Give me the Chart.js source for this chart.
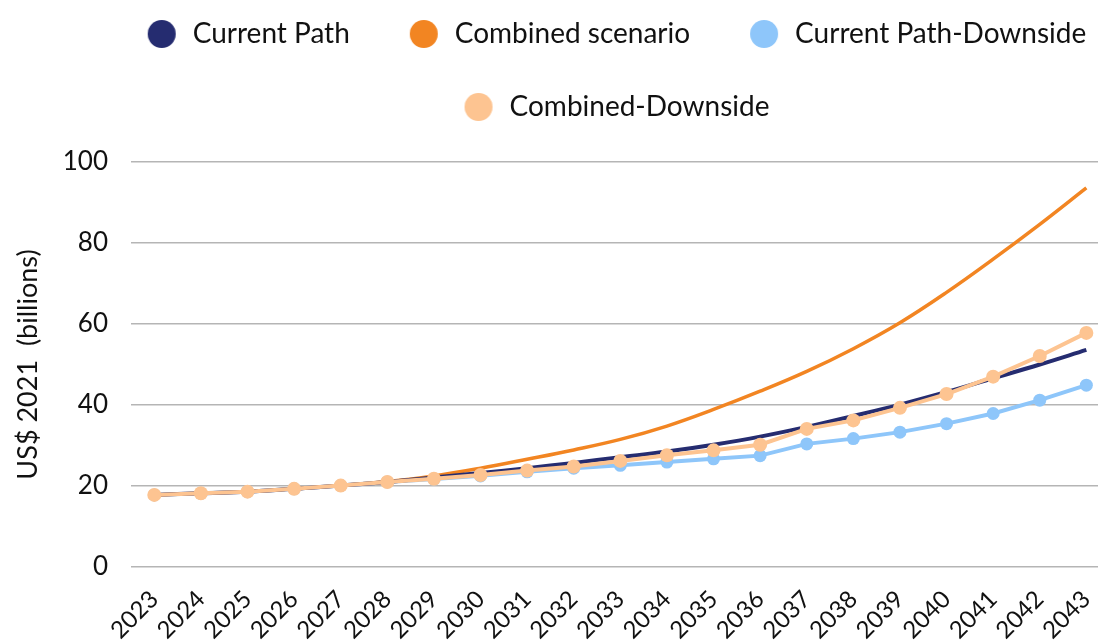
<!DOCTYPE html>
<html>
<head>
<meta charset="utf-8">
<script src="https://cdn.jsdelivr.net/npm/chart.js@4.4.1/dist/chart.umd.min.js"></script>
<style>
    html, body { margin: 0; padding: 0; background: #ffffff; }
    #wrap { width: 1105px; height: 642px; position: relative; }
</style>
</head>
<body>
<div id="wrap"><canvas id="pathChart"></canvas></div>
<script>
// Data
const years = ['2023', '2024', '2025', '2026', '2027', '2028', '2029', '2030', '2031', '2032', '2033',
    '2034', '2035', '2036', '2037', '2038', '2039', '2040', '2041', '2042', '2043'];
const currentPath = [17.8, 18.2, 18.6, 19.3, 20.1, 21.0, 22.1, 23.2, 24.4, 25.7, 27.1,
    28.5, 30.2, 32.2, 34.6, 37.3, 40.1, 43.2, 46.6, 50.0, 53.6];
const combinedScenario = [17.8, 18.2, 18.6, 19.3, 20.1, 21.1, 22.5, 24.4, 26.6, 28.9, 31.5,
    34.8, 38.9, 43.4, 48.3, 53.9, 60.3, 67.8, 76.0, 84.6, 93.6];
const currentPathDownside = [17.8, 18.2, 18.6, 19.3, 20.1, 21.0, 21.7, 22.5, 23.5, 24.4, 25.1,
    25.9, 26.7, 27.5, 30.4, 31.7, 33.3, 35.4, 37.9, 41.2, 44.9];
const combinedDownside = [17.8, 18.2, 18.6, 19.3, 20.1, 21.0, 21.8, 22.7, 23.8, 24.8, 26.2,
    27.6, 28.8, 30.2, 34.1, 36.2, 39.3, 42.7, 47.0, 52.1, 57.8];
const yTickValues = [0, 20, 40, 60, 80, 100];
const yTitle = 'US$ 2021  (billions)';

const FONT = 'Lato, "Open Sans", sans-serif';
const colors = ['#252c70', '#f28522', '#8ec6fa', '#fdc491'];

function toPoints(values) {
    return values.map((v, i) => ({ x: Number(years[i]), y: v }));
}

// Legend marker: a circle with some blank space on its left
function legendDot(color) {
    const c = document.createElement('canvas');
    c.width = 46;
    c.height = 28;
    const g = c.getContext('2d');
    g.fillStyle = color;
    g.beginPath();
    g.arc(29, 14, 14, 0, Math.PI * 2);
    g.fill();
    return c;
}

// Extra room under the legend, and centre it over the plot rather than the canvas
const legendSpacing = {
    id: 'legendSpacing',
    beforeInit(chart) {
        const legend = chart.legend;
        const originalFit = legend.fit;
        const originalDraw = legend.draw;
        legend.fit = function () {
            originalFit.call(legend);
            this.height += 31;
        };
        legend.draw = function () {
            const ctx = chart.ctx;
            ctx.save();
            ctx.translate(57, 0);
            originalDraw.apply(legend, arguments);
            ctx.restore();
        };
    }
};

document.addEventListener('DOMContentLoaded', function () {
    const ctx = document.getElementById('pathChart').getContext('2d');
    const pathChart = new Chart(ctx, {
        type: 'line',
        data: {
            datasets: [{
                label: 'Current Path',
                data: toPoints(currentPath),
                borderColor: colors[0],
                backgroundColor: colors[0],
                borderWidth: 4,
                tension: 0.4,
                pointRadius: 0,
                order: 2
            }, {
                label: 'Combined scenario',
                data: toPoints(combinedScenario),
                borderColor: colors[1],
                backgroundColor: colors[1],
                borderWidth: 3.5,
                tension: 0.4,
                pointRadius: 0,
                order: 3
            }, {
                label: 'Current Path-Downside',
                data: toPoints(currentPathDownside),
                borderColor: colors[2],
                backgroundColor: colors[2],
                borderWidth: 4,
                tension: 0,
                pointRadius: 6.5,
                pointBorderWidth: 0,
                order: 4
            }, {
                label: 'Combined-Downside',
                data: toPoints(combinedDownside),
                borderColor: colors[3],
                backgroundColor: colors[3],
                borderWidth: 4,
                tension: 0,
                pointRadius: 7,
                pointBorderWidth: 0,
                order: 1
            }]
        },
        options: {
            responsive: true,
            maintainAspectRatio: false,
            animation: false,
            layout: {
                padding: { top: -25, left: 0, right: 0, bottom: 0 }
            },
            plugins: {
                legend: {
                    position: 'top',
                    labels: {
                        usePointStyle: true,
                        pointStyleWidth: 46,
                        boxHeight: 28,
                        padding: 45,
                        color: '#111111',
                        font: { family: FONT, size: 28 },
                        generateLabels: function (chart) {
                            const items = Chart.defaults.plugins.legend.labels.generateLabels(chart);
                            items.forEach(item => {
                                item.pointStyle = legendDot(colors[item.datasetIndex]);
                            });
                            return items;
                        },
                        // keep dataset order, not draw order
                        sort: (a, b) => a.datasetIndex - b.datasetIndex
                    }
                },
                tooltip: { enabled: false }
            },
            scales: {
                x: {
                    type: 'linear',
                    min: Number(years[0]) - 0.5,
                    max: Number(years[years.length - 1]) + 0.25,
                    afterBuildTicks: function (scale) {
                        scale.ticks = years.map(y => ({ value: Number(y) }));
                    },
                    afterFit: function (scale) {
                        scale.height = 75;
                        scale.paddingLeft = 0;
                        scale.paddingRight = 0;
                    },
                    grid: { display: false, drawTicks: false },
                    border: { display: false },
                    ticks: {
                        autoSkip: false,
                        minRotation: 45,
                        maxRotation: 45,
                        padding: 18,
                        color: '#111111',
                        font: { family: FONT, size: 24 },
                        callback: (value) => String(value)
                    }
                },
                y: {
                    min: 0,
                    max: 100,
                    afterBuildTicks: function (scale) {
                        scale.ticks = yTickValues.map(v => ({ value: v }));
                    },
                    afterFit: function (scale) {
                        scale.width = 131;
                    },
                    grid: {
                        color: '#b5b5b5',
                        lineWidth: 1.5,
                        drawTicks: false
                    },
                    border: { display: false },
                    ticks: {
                        padding: 23,
                        color: '#111111',
                        font: { family: FONT, size: 26 }
                    },
                    title: {
                        display: true,
                        text: yTitle,
                        color: '#111111',
                        font: { family: FONT, size: 27 },
                        padding: { top: 12, bottom: 0 }
                    }
                }
            }
        },
        plugins: [legendSpacing]
    });
});
</script>
</body>
</html>
